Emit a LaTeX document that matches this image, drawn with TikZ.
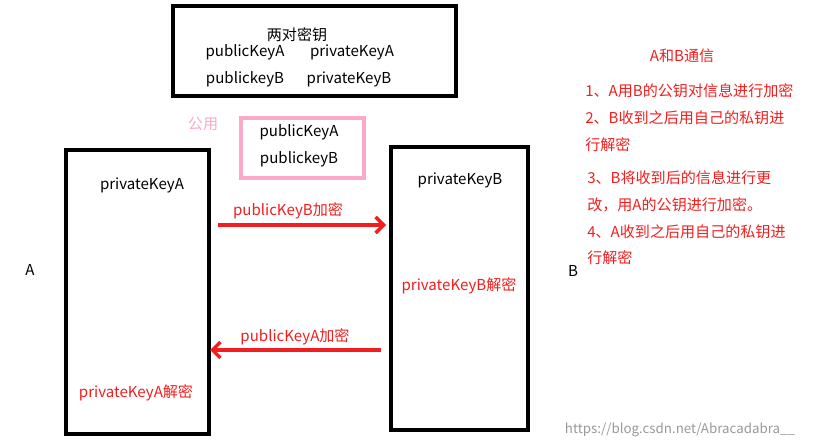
\documentclass[tikz,border=0pt]{standalone}
\usepackage{fontspec}
\setmainfont{Noto Sans CJK SC}
\definecolor{msgred}{RGB}{240,30,30}
\definecolor{sharepink}{RGB}{250,170,200}
\tikzset{
	txt/.style={inner sep=0pt, font=\fontsize{11.3}{13}\selectfont},
	redtxt/.style={txt, text=msgred},
	keybox/.style={draw, line width=3.5pt},
	msgarrow/.style={draw=msgred, line width=2.6pt, -{Straight Barb[length=6pt,width=12pt]}}
}
\usetikzlibrary{arrows.meta}
\begin{document}
\begin{tikzpicture}[x=0.75pt, y=-0.75pt]
			\useasboundingbox (0,0) rectangle (816,448);
			\draw[keybox] (173,6) rectangle (456,96);
			\draw (297,35) 	node[txt] 	(pairs) 	{两对密钥};
			\draw (245,52) 	node[txt] 	(pubA) 		{publicKeyA};
			\draw (352,52) 	node[txt] 	(privA) 	{privateKeyA};
			\draw (245,79) 	node[txt] 	(pubB) 		{publickeyB};
			\draw (349,79) 	node[txt] 	(privB) 	{privateKeyB};

			\draw (203,124) node[txt, text=sharepink] (shared) {公用};
			\draw[draw=sharepink, line width=3pt] (241,118) rectangle (364,178);
			\draw (299,132) node[txt] 	(spubA) 	{publicKeyA};
			\draw (299,159) node[txt] 	(spubB) 	{publickeyB};

			\draw[keybox] (66,150) rectangle (209,434);
			\draw[keybox] (391,147) rectangle (528,430);
			\draw (142,185) node[txt] 	(boxA) 		{privateKeyA};
			\draw (460,180) node[txt] 	(boxB) 		{privateKeyB};
			\draw (30,270) 	node[txt] 	(A) 		{A};
			\draw (573,271) node[txt] 	(B) 		{B};

			\draw (218,225) coordinate (a1s);
			\draw (386,225) coordinate (a1e);
			\draw (381,350) coordinate (a2s);
			\draw (210,350) coordinate (a2e);
			\draw[msgarrow] (a1s) -- (a1e);
			\draw[msgarrow] (a2s) -- (a2e);
			\draw (288,211) node[redtxt] (encB) 	{publicKeyB加密};
			\draw (295,337) node[redtxt] (encA) 	{publicKeyA加密};
			\draw (459,286) node[redtxt] (decB) 	{privateKeyB解密};
			\draw (136,393) node[redtxt] (decA) 	{privateKeyA解密};

			\draw (682,56) 	node[redtxt] 			(title) 	{A和B通信};
			\draw (585,91) 	node[redtxt, anchor=west] 	(step1) 	{1、A用B的公钥对信息进行加密};
			\draw (585,118) node[redtxt, anchor=west] 	(step2) 	{2、B收到之后用自己的私钥进};
			\draw (585,145) node[redtxt, anchor=west] 	(step2b) 	{行解密};
			\draw (587,178) node[redtxt, anchor=west] 	(step3) 	{3、B将收到后的信息进行更};
			\draw (587,205) node[redtxt, anchor=west] 	(step3b) 	{改，用A的公钥进行加密。};
			\draw (587,232) node[redtxt, anchor=west] 	(step4) 	{4、A收到之后用自己的私钥进};
			\draw (587,258) node[redtxt, anchor=west] 	(step4b) 	{行解密};

			\draw (680,430) node[txt, text=black!40, font=\fontsize{10}{12}\selectfont] (mark) {https://blog.csdn.net/Abracadabra\_\_};
\end{tikzpicture}
\end{document}
